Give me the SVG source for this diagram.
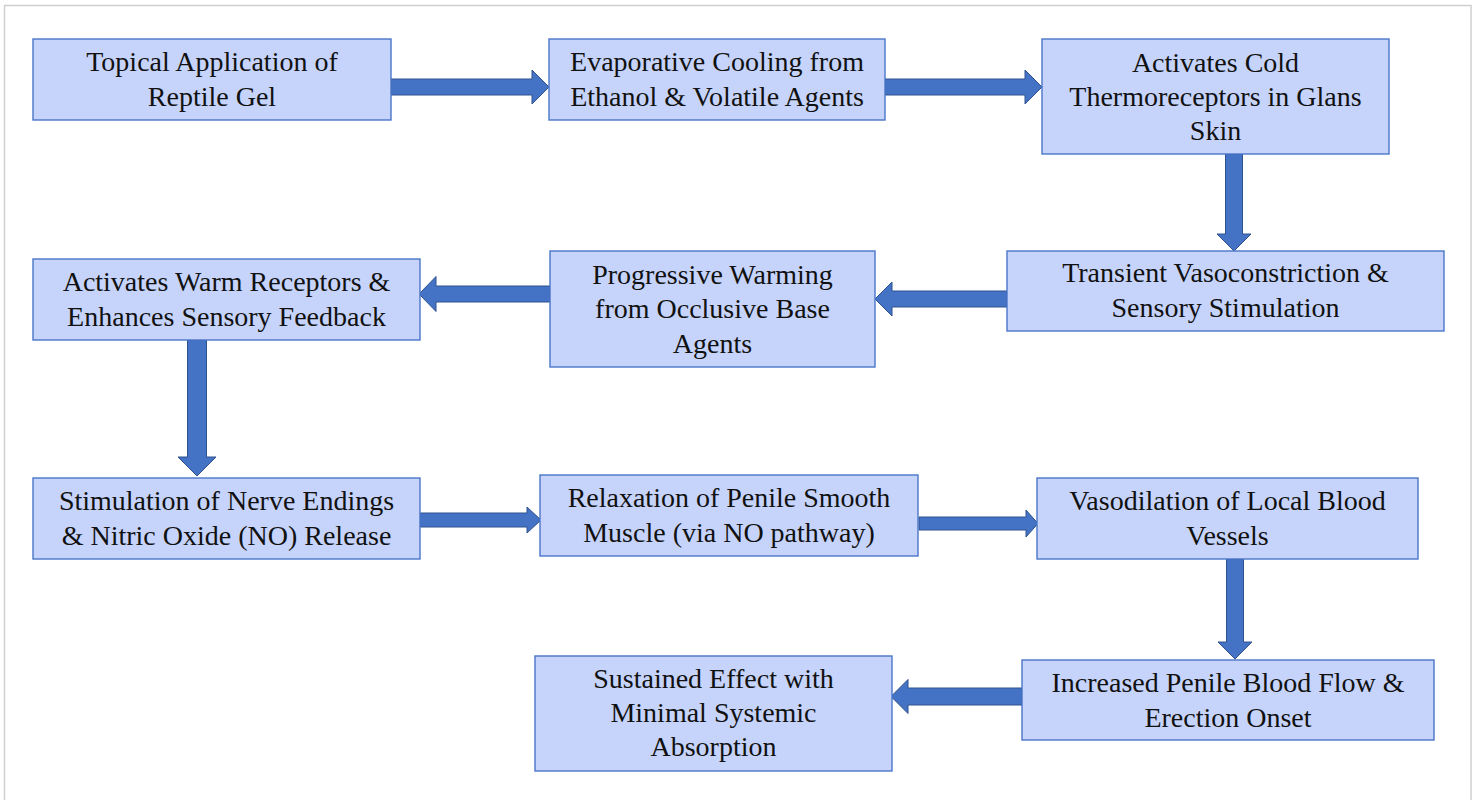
<svg xmlns="http://www.w3.org/2000/svg" width="1477" height="800" viewBox="0 0 1477 800">
<style>
.box{fill:#C6D4FB;stroke:#4A76C8;stroke-width:1.4}
.arr{fill:#4472C4;stroke:#2F528F;stroke-width:1}
text{font-family:'Liberation Serif','Times New Roman','DejaVu Serif',serif;font-size:28px;fill:#111;text-anchor:middle}
</style>
<rect x="0" y="0" width="1477" height="800" fill="#fff"/>
<rect x="4.5" y="5.5" width="1466.5" height="800" fill="none" stroke="#CFCFCF" stroke-width="1.5"/>
<g id="connectors">
<polygon class="arr" points="391,79 532,79 532,70 549,87 532,104 532,95 391,95"/>
<polygon class="arr" points="885,79 1025,79 1025,70 1042,87 1025,104 1025,95 885,95"/>
<polygon class="arr" points="1225.5,154 1242.5,154 1242.5,234 1251,234 1234,251 1217,234 1225.5,234"/>
<polygon class="arr" points="1007,291 892,291 892,282 875,299 892,316 892,307 1007,307"/>
<polygon class="arr" points="550,286 436,286 436,276.5 419,294 436,311.5 436,302 550,302"/>
<polygon class="arr" points="187.5,340 206.5,340 206.5,457 216,457 197,476 178,457 187.5,457"/>
<polygon class="arr" points="420,513 527,513 527,507 541,520 527,533 527,527 420,527"/>
<polygon class="arr" points="919,517 1026,517 1026,510 1038,523.5 1026,537 1026,530 919,530"/>
<polygon class="arr" points="1226.5,559 1243.5,559 1243.5,642 1252,642 1235,659 1218,642 1226.5,642"/>
<polygon class="arr" points="1022,688 908,688 908,679.5 891,696.5 908,713.5 908,705 1022,705"/>
</g>
<g id="n1"><rect class="box" x="33" y="39" width="358" height="81"/>
<text x="212" y="71">Topical Application of</text><text x="212" y="106">Reptile Gel</text></g>
<g id="n2"><rect class="box" x="549" y="39" width="336" height="81"/>
<text x="717" y="71">Evaporative Cooling from</text><text x="717" y="106">Ethanol &amp; Volatile Agents</text></g>
<g id="n3"><rect class="box" x="1042" y="39" width="347" height="115"/>
<text x="1215.5" y="71.5">Activates Cold</text><text x="1215.5" y="105.5">Thermoreceptors in Glans</text><text x="1215.5" y="139.5">Skin</text></g>
<g id="n4"><rect class="box" x="1007" y="251" width="437" height="80"/>
<text x="1225.5" y="282">Transient Vasoconstriction &amp;</text><text x="1225.5" y="317">Sensory Stimulation</text></g>
<g id="n5"><rect class="box" x="550" y="251" width="325" height="116"/>
<text x="712.5" y="283.5">Progressive Warming</text><text x="712.5" y="318">from Occlusive Base</text><text x="712.5" y="352.5">Agents</text></g>
<g id="n6"><rect class="box" x="33" y="259" width="387" height="81"/>
<text x="226.5" y="291">Activates Warm Receptors &amp;</text><text x="226.5" y="326">Enhances Sensory Feedback</text></g>
<g id="n7"><rect class="box" x="33" y="478" width="387" height="81"/>
<text x="226.5" y="510">Stimulation of Nerve Endings</text><text x="226.5" y="545">&amp; Nitric Oxide (NO) Release</text></g>
<g id="n8"><rect class="box" x="540" y="475" width="378" height="81"/>
<text x="729" y="507">Relaxation of Penile Smooth</text><text x="729" y="542">Muscle (via NO pathway)</text></g>
<g id="n9"><rect class="box" x="1037" y="478" width="381" height="81"/>
<text x="1227.5" y="510">Vasodilation of Local Blood</text><text x="1227.5" y="545">Vessels</text></g>
<g id="n10"><rect class="box" x="1022" y="660" width="412" height="80"/>
<text x="1228" y="691.5">Increased Penile Blood Flow &amp;</text><text x="1228" y="726.5">Erection Onset</text></g>
<g id="n11"><rect class="box" x="535" y="656" width="357" height="115"/>
<text x="713.5" y="688">Sustained Effect with</text><text x="713.5" y="722">Minimal Systemic</text><text x="713.5" y="756">Absorption</text></g>
</svg>
